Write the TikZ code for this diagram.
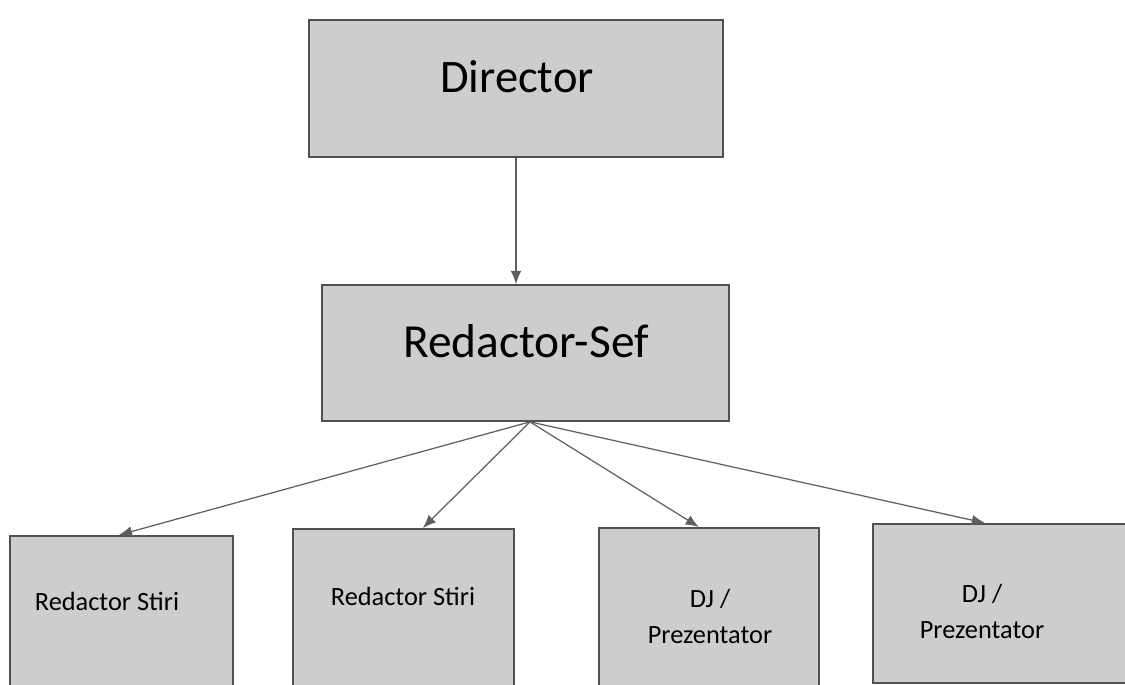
\documentclass[tikz,border=0pt]{standalone}
\usepackage{fontspec}
\setmainfont{Carlito}
\usetikzlibrary{arrows.meta}
\definecolor{boxgray}{RGB}{205,205,205}
\definecolor{edgegray}{RGB}{80,80,80}
\definecolor{arrgray}{RGB}{95,95,95}

\begin{document}
\begin{tikzpicture}[x=0.02cm,y=-0.02cm,
  box/.style={draw=edgegray,line width=1pt,fill=boxgray,rectangle,inner sep=0pt},
  lbl/.style={font=\fontsize{15}{20.5}\selectfont,align=center,inner sep=0pt},
  arr/.style={draw=arrgray,line width=0.7pt,-{Latex[length=7.5pt,width=6pt]}}]
  \useasboundingbox (0,0) rectangle (1125,684);
  \clip (0,0) rectangle (1125,684);

  % top two levels
  \node[box,minimum width=8.28cm,minimum height=2.74cm] (dir) at (516,88.5) {};
  \node[box,minimum width=8.14cm,minimum height=2.72cm] (sef) at (525.5,353) {};
  \node[font=\fontsize{26.5}{30}\selectfont,anchor=base,inner sep=0pt] (dirtxt) at (517,92) {Director};
  \node[font=\fontsize{27}{30}\selectfont,anchor=base,inner sep=0pt] (seftxt) at (526,357) {Redactor-Sef};

  % bottom row (cut off by the page edge)
  \node[box,anchor=north west,minimum width=4.46cm,minimum height=3.4cm] (stiri1) at (9,535) {};
  \node[box,anchor=north west,minimum width=4.42cm,minimum height=3.4cm] (stiri2) at (292,528) {};
  \node[box,anchor=north west,minimum width=4.4cm,minimum height=3.4cm] (dj1) at (598,527) {};
  \node[box,anchor=north west,minimum width=5.6cm,minimum height=3.18cm] (dj2) at (872,523) {};

  \node[lbl,anchor=base] (stiri1txt) at (107,610) {Redactor Stiri};
  \node[lbl,anchor=base] (stiri2txt) at (403,605) {Redactor Stiri};
  \node[lbl] (dj1txt) at (710,616) {DJ /\\Prezentator};
  \node[lbl] (dj2txt) at (982,611) {DJ /\\Prezentator};

  % arrows
  \draw[arr] (dir.south) -- (dir.south |- sef.north);
  \coordinate (fan) at ([xshift=0.09cm]sef.south);
  \draw[arr] (fan) -- ([xshift=-0.05cm]stiri1.north);
  \draw[arr] (fan) -- ([xshift=0.39cm]stiri2.north);
  \draw[arr] (fan) -- ([xshift=-0.2cm]dj1.north);
  \draw[arr] (fan) -- ([xshift=2.26cm]dj2.north west);
\end{tikzpicture}
\end{document}
